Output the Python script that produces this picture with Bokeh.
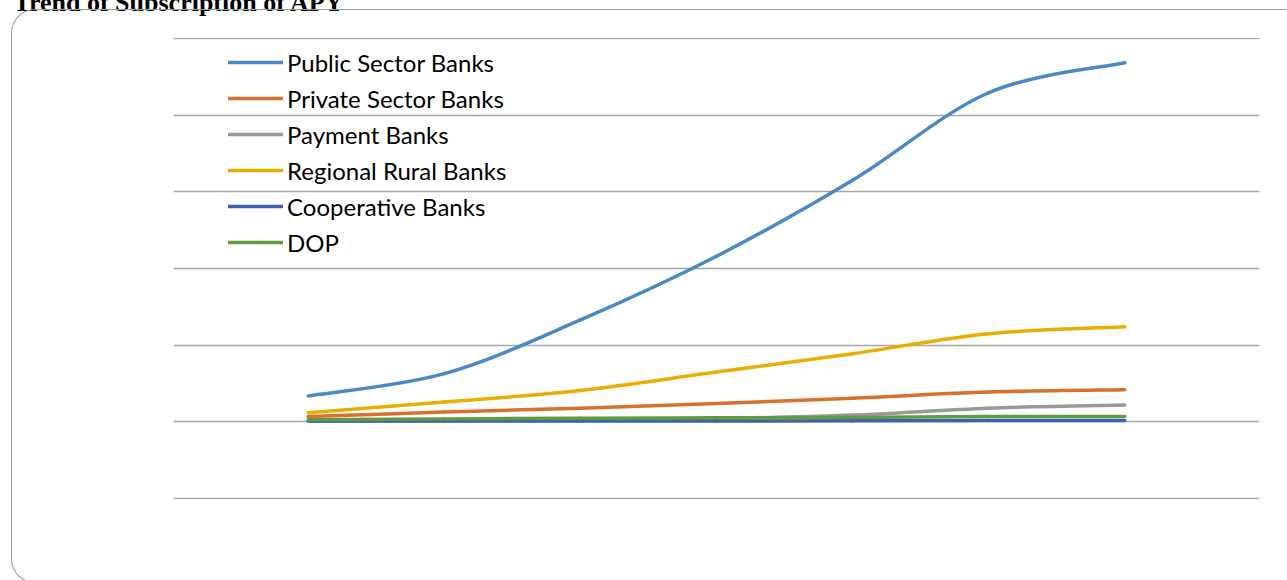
from bokeh.plotting import figure
from bokeh.models import (Range1d, FixedTicker, Legend, LegendItem,
                          ColumnDataSource, InlineStyleSheet)
from bokeh.embed import file_html
from bokeh.resources import INLINE

# ---- data (y in gridline units, the axis has no labels) ----
periods = [0, 1, 2, 3, 4, 5, 6]
series_names = ["Public Sector Banks", "Private Sector Banks", "Payment Banks",
                "Regional Rural Banks", "Cooperative Banks", "DOP"]
public_sector = [0.34, 0.63, 1.33, 2.16, 3.15, 4.29, 4.68]
private_sector = [0.07, 0.13, 0.18, 0.24, 0.31, 0.39, 0.42]
payment_banks = [0.01, 0.02, 0.03, 0.045, 0.09, 0.18, 0.22]
regional_rural = [0.12, 0.26, 0.41, 0.65, 0.89, 1.15, 1.24]
cooperative = [0.012, 0.012, 0.012, 0.013, 0.015, 0.018, 0.02]
dop = [0.03, 0.04, 0.05, 0.055, 0.06, 0.07, 0.07]
y_ticks = [-1, 0, 1, 2, 3, 4, 5]
chart_title = "Trend of Subscription of APY"

colors = ["#4A89C6", "#D9702E", "#999999", "#E8AE00", "#3C62AE", "#619B3E"]
all_series = [public_sector, private_sector, payment_banks, regional_rural, cooperative, dop]

# ---- figure (canvas starts above the page top so the title is cut like the original) ----
SHIFT = 45
W, H = 1287, 580 + SHIFT
p = figure(width=W, height=H, output_backend="svg", toolbar_location=None,
           x_range=Range1d(-0.99, 6.99), y_range=Range1d(-1.01, 5.01),
           min_border_left=173, min_border_right=28, min_border_top=37 + SHIFT,
           min_border_bottom=81, title=chart_title)
p.styles = {"margin-top": f"-{SHIFT}px"}
p.outline_line_color = None
p.background_fill_color = "white"
p.border_fill_color = "white"
p.xaxis.visible = False
p.yaxis.visible = False
p.xgrid.grid_line_color = None
p.yaxis.ticker = FixedTicker(ticks=y_ticks)
p.ygrid.ticker = FixedTicker(ticks=y_ticks)
p.ygrid.grid_line_color = "#A6A6A6"
p.ygrid.grid_line_width = 1.4

p.title.text_font = "Liberation Serif"
p.title.text_font_style = "bold"
p.title.text_font_size = "26px"
p.title.text_color = "#000000"
p.title.align = "left"
p.title.offset = -160
p.title.standoff = 41

# rounded chart-area border (Excel chart-area frame), drawn with CSS
p.stylesheets = [InlineStyleSheet(css=f"""
:host {{ position: relative; overflow: hidden; }}
:host::after {{
  content: ""; position: absolute; left: 11px; top: {9 + SHIFT}px;
  width: 1300px; height: 574px; box-sizing: border-box;
  border: 1.3px solid #9A9A9A; border-right: none;
  border-radius: 24px 0 0 24px; pointer-events: none;
}}
""")]


def smooth_segments(xs, ys):
    n = len(xs)
    d = dict(x0=[], y0=[], x1=[], y1=[], cx0=[], cy0=[], cx1=[], cy1=[])
    for i in range(n - 1):
        x0, y0, x1, y1 = xs[i], ys[i], xs[i + 1], ys[i + 1]
        xp, yp = (xs[i - 1], ys[i - 1]) if i > 0 else (x0, y0)
        xn, yn = (xs[i + 2], ys[i + 2]) if i + 2 < n else (x1, y1)
        d["x0"].append(x0); d["y0"].append(y0)
        d["x1"].append(x1); d["y1"].append(y1)
        d["cx0"].append(x0 + (x1 - xp) / 6); d["cy0"].append(y0 + (y1 - yp) / 6)
        d["cx1"].append(x1 - (xn - x0) / 6); d["cy1"].append(y1 - (yn - y0) / 6)
    return ColumnDataSource(d)


items = []
for name, vals, col in zip(series_names, all_series, colors):
    src = smooth_segments(periods, vals)
    r = p.bezier(x0="x0", y0="y0", x1="x1", y1="y1", cx0="cx0", cy0="cy0",
                 cx1="cx1", cy1="cy1", source=src, line_color=col,
                 line_width=3.5, line_cap="round")
    items.append(LegendItem(label=name, renderers=[r]))

legend = Legend(items=items, location=(55, 240), padding=0, margin=0,
                glyph_width=55, glyph_height=34, spacing=2, label_standoff=4,
                label_text_font="Lato", label_text_font_size="24px",
                label_text_color="#000000", background_fill_alpha=0,
                border_line_color=None)
p.add_layout(legend)

open("out.html", "w").write(file_html(p, INLINE))
